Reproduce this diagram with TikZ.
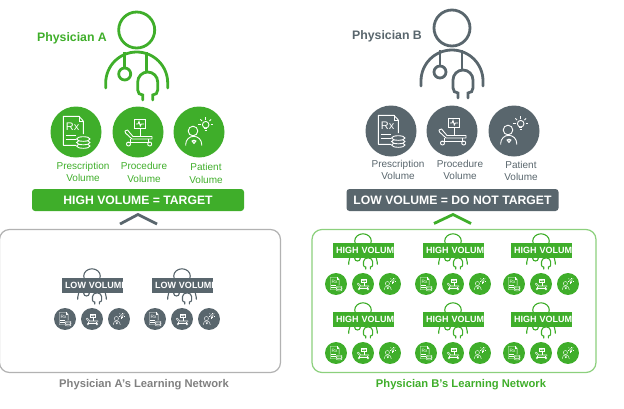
\documentclass[tikz,border=0pt]{standalone}
\usepackage{fontspec}
\setmainfont{Liberation Sans}
\usetikzlibrary{positioning}
\definecolor{docgreen}{RGB}{63,174,42}
\definecolor{docgray}{RGB}{89,102,109}
\definecolor{netgreen}{RGB}{140,208,125}
\definecolor{netgray}{RGB}{178,178,178}
\definecolor{titlegray}{RGB}{128,128,128}

\tikzset{
  pics/doctor/.style={code={
    \draw[#1,line cap=round] (0,0) circle (18);
    \draw[#1,line cap=round] (-31,58) -- (-31,53) arc[start angle=180,end angle=360,radius=31] -- (31,58);
    \draw[#1] (-12,22) -- (-12,38);
    \draw[#1] (-12,44) circle (6);
    \draw[#1] (10,22) -- (10,42);
    \draw[#1,line cap=round] (6,70) -- (6,65) .. controls (3,65) and (1,63) .. (1,60) -- (1,52)
      arc[start angle=180,end angle=360,radius=10] -- (21,60)
      .. controls (21,63) and (19,65) .. (16,65) -- (16,70);
  }},
  pics/rxvol/.style={code={
    \fill[#1] (0,0) circle (25.5);
    \draw[white,line join=round] (0,13.3) -- (-12.7,13.3) -- (-12.7,-15.7) -- (3,-15.7) -- (7.3,-11) -- (7.3,2);
    \draw[white] (3,-15.7) -- (3,-11) -- (7.3,-11);
    \draw[white] (-10.5,3.5) -- (0,3.5) (-10.5,7.5) -- (0,7.5);
    \node[white,transform shape,inner sep=0pt,font=\fontsize{11}{11}\selectfont] (-rx) at (-3.3,-5.5) {Rx};
    \foreach \cy in {14,10.5,7} {
      \draw[white,fill=#1] (7.3,\cy) ellipse (6.7 and 2.3);
    }
  }},
  pics/bedvol/.style={code={
    \fill[#1] (0,0) circle (25.5);
    \draw[white] (-3.3,-12.3) rectangle (7.3,-4);
    \draw[white] (-2,-8) -- (0,-8) -- (1,-10.5) -- (2.3,-6) -- (3.3,-8) -- (6,-8);
    \draw[white] (2,-4) -- (2,4.5);
    \draw[white,line join=round] (-13,-1) -- (-10.5,-2) -- (-5,4.5) -- (14,4.5) -- (14,7) -- (-6,7) -- (-12.5,1) -- cycle;
    \draw[white] (-8,7) -- (-8,10) (10,7) -- (10,10) (-10,10) -- (12,10);
    \draw[white] (-9.5,12) circle (2) (11.7,12) circle (2);
  }},
  pics/patientvol/.style={code={
    \fill[#1] (0,0) circle (25.5);
    \draw[white] (-6,-1) circle (4.8);
    \draw[white] (-13.3,13.7) -- (-13.3,12.3) arc[start angle=180,end angle=360,radius=8] -- (2.7,13.7);
    \draw[white] (-5,11.5) -- (-7,9) -- (-5.5,8.3) -- (-5,9) -- (-4.5,8.3) -- (-3,9) -- cycle;
    \draw[white] (6.7,-7.3) circle (3.3);
    \draw[white] (5.2,-3.5) -- (8.2,-3.5) (5.5,-1.5) -- (7.9,-1.5);
    \foreach \a in {180,225,270,315,360} {
      \draw[white,shift={(6.7,-7.3)}] (\a:5.2) -- (\a:7.6);
    }
  }},
  pics/peer/.style n args={2}{code={
    \pic[xscale=.46,yscale=.4,line width=1.1pt] (-doc) at (0,-1) {doctor=#1};
    \node[peerbar,fill=#1] (-bar) at (.5,8.5) {\mbox{#2}};
    \pic[smallvol] (-rxv) at (-27,42) {rxvol=#1};
    \pic[smallvol] (-bedv) at (0,42) {bedvol=#1};
    \pic[smallvol] (-patv) at (27,42) {patientvol=#1};
  }},
  smallvol/.style={scale=.43,line width=.4pt},
  bigvol/.style={line width=.9pt},
  peerbar/.style={minimum width=61,minimum height=14.5,inner xsep=3,inner ysep=0,text width=55,
                  align=left,text=white,font=\bfseries\fontsize{9}{9}\selectfont},
}

\begin{document}
\begin{tikzpicture}[
    x=1pt,y=-1pt,
    netbox/.style={rounded corners=10pt,line width=1.2pt,minimum width=281,minimum height=143},
    banner/.style={rounded corners=3pt,minimum width=212,minimum height=22,inner sep=0pt,
                   text=white,font=\bfseries\fontsize{12.2}{13}\selectfont},
    docname/.style={font=\bfseries\fontsize{12.3}{14}\selectfont,inner sep=0pt},
    vollbl/.style={font=\fontsize{10}{12.5}\selectfont,align=center,inner sep=0pt},
    nettitle/.style={font=\bfseries\fontsize{11.2}{13}\selectfont,inner sep=0pt},
    chev/.style={line width=2.8pt},
]
  \useasboundingbox (0,0) rectangle (624,408);

  % Physician A
  \node[docname,docgreen] (nameA) at (72,38) {Physician A};
  \pic[line width=2.8pt] (docA) at (136.7,30) {doctor=docgreen};
  \pic[bigvol] (rxA) at (76,132) {rxvol=docgreen};
  \pic[bigvol] (bedA) at (138,132) {bedvol=docgreen};
  \pic[bigvol] (patA) at (199,132) {patientvol=docgreen};
  \node[vollbl,docgreen] (rxlblA) at (83,172) {Prescription\\Volume};
  \node[vollbl,docgreen] (bedlblA) at (144,172.5) {Procedure\\Volume};
  \node[vollbl,docgreen] (patlblA) at (206,173.5) {Patient\\Volume};
  \node[banner,fill=docgreen] (bannerA) at (138,200) {HIGH VOLUME = TARGET};
  \draw[chev,docgray] (120,224) -- (138,214.5) -- (157,224);

  % Physician B
  \node[docname,docgray] (nameB) at (387,36) {Physician B};
  \pic[line width=2.8pt] (docB) at (452,28) {doctor=docgray};
  \pic[bigvol] (rxB) at (391,131) {rxvol=docgray};
  \pic[bigvol] (bedB) at (452,131) {bedvol=docgray};
  \pic[bigvol] (patB) at (514,131) {patientvol=docgray};
  \node[vollbl,docgray] (rxlblB) at (398,170) {Prescription\\Volume};
  \node[vollbl,docgray] (bedlblB) at (460,170) {Procedure\\Volume};
  \node[vollbl,docgray] (patlblB) at (521,171) {Patient\\Volume};
  \node[banner,fill=docgray] (bannerB) at (452.5,200) {LOW VOLUME = DO NOT TARGET};
  \draw[chev,docgreen] (434,223.5) -- (453,214.5) -- (471,223.5);

  % Learning networks
  \node[netbox,draw=netgray] (netA) at (140,301) {};
  \node[netbox,draw=netgreen,minimum width=284] (netB) at (454,301) {};
  \foreach \hx in {92,182} {
    \pic (peerA\hx) at (\hx,277) {peer={docgray}{LOW VOLUME}};
  }
  \foreach \hx in {363,453,541} {
    \foreach \hy in {242,311} {
      \pic (peerB\hx\hy) at (\hx,\hy) {peer={docgreen}{HIGH VOLUME}};
    }
  }
  \node[nettitle,titlegray] (titleA) at (144,385) {Physician A's Learning Network};
  \node[nettitle,docgreen] (titleB) at (461,385) {Physician B's Learning Network};
\end{tikzpicture}
\end{document}
